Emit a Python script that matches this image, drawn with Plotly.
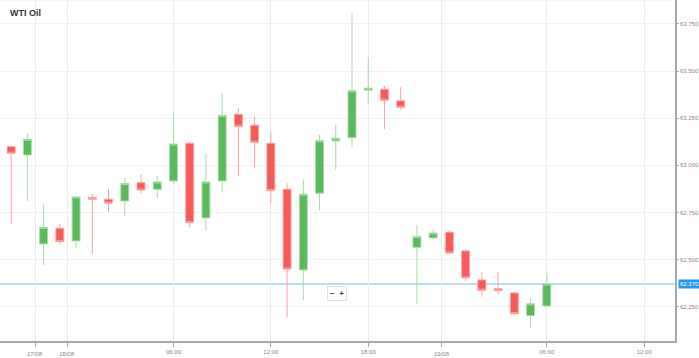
import plotly.graph_objects as go

# ---- data (hourly candles, index positions) ----
candle_idx = list(range(34))
opens = [63.099, 63.055, 62.583, 62.666, 62.599, 62.829, 62.820, 62.811, 62.908, 62.873,
         62.917, 63.117, 62.721, 62.917, 63.271, 63.213, 63.117, 62.873, 62.445, 62.852,
         63.129, 63.147, 63.398, 63.404, 63.342, 62.565, 62.615, 62.645, 62.546, 62.392,
         62.346, 62.323, 62.203, 62.254]
highs = [63.105, 63.170, 62.793, 62.689, 62.834, 62.847, 62.876, 62.931, 62.951, 62.945,
         63.279, 63.122, 63.064, 63.382, 63.303, 63.258, 63.175, 62.905, 62.926, 63.161,
         63.218, 63.807, 63.573, 63.421, 63.414, 62.684, 62.661, 62.657, 62.555, 62.436,
         62.436, 62.326, 62.295, 62.427]
lows = [62.687, 62.811, 62.471, 62.583, 62.560, 62.530, 62.751, 62.731, 62.852, 62.829,
        62.900, 62.669, 62.653, 62.860, 62.942, 62.984, 62.799, 62.196, 62.286, 62.758,
        62.975, 63.096, 63.329, 63.191, 63.294, 62.263, 62.612, 62.533, 62.387, 62.303,
        62.318, 62.210, 62.137, 62.250]
closes = [63.064, 63.138, 62.671, 62.595, 62.832, 62.820, 62.800, 62.903, 62.869, 62.912,
          63.113, 62.696, 62.912, 63.265, 63.207, 63.122, 62.866, 62.450, 62.847, 63.131,
          63.144, 63.395, 63.409, 63.345, 63.308, 62.622, 62.641, 62.535, 62.403, 62.337,
          62.335, 62.213, 62.265, 62.370]

current_price = 62.370

x_tick_pos = [1.48, 3.47, 10, 16, 22, 26.54, 33, 39]
x_tick_text = ["", "", "06:00", "12:00", "18:00", "", "06:00", "12:00"]
date_pos = [1.48, 3.47, 26.54]
date_text = ["17/08", "18/08", "19/08"]

y_ticks = [62.25, 62.5, 62.75, 63.0, 63.25, 63.5, 63.75]

GREEN = "#5cb85c"
RED = "#f65b5b"

fig = go.Figure()
fig.add_trace(go.Candlestick(
    x=candle_idx, open=opens, high=highs, low=lows, close=closes,
    increasing=dict(fillcolor=GREEN, line=dict(color="#a9dba9", width=1)),
    decreasing=dict(fillcolor=RED, line=dict(color="#fba3a3", width=1)),
    whiskerwidth=0, showlegend=False, hoverinfo="skip",
))

# current price line
fig.add_shape(type="line", xref="paper", x0=0, x1=1, yref="y",
              y0=current_price, y1=current_price,
              line=dict(color="#a9d3f5", width=1.5), layer="below")
# faint top border
fig.add_shape(type="line", xref="paper", x0=0, x1=1, yref="paper", y0=1, y1=1,
              line=dict(color="#eeeeee", width=1), layer="below")

annotations = []
for p, t in zip(date_pos, date_text):
    annotations.append(dict(x=p, xref="x", y=0, yref="paper", yanchor="top",
                            yshift=-8, text=t, showarrow=False,
                            font=dict(size=6, color="#888")))
annotations.append(dict(x=1, xref="paper", xanchor="left", xshift=3,
                        y=current_price, yref="y", text=f"{current_price:.3f}",
                        showarrow=False, bgcolor="#2196f3", borderpad=1,
                        font=dict(size=6, color="white")))
annotations.append(dict(x=8 / 677, xref="paper", y=(341 - 13) / 341, yref="paper",
                        text="<b>WTI Oil</b>", showarrow=False, xanchor="left",
                        yanchor="middle",
                        font=dict(size=9, color="#333", family="Liberation Sans, Arial")))
annotations.append(dict(x=338 / 677, xref="paper", y=(341 - 293) / 341, yref="paper",
                        yanchor="middle",
                        text="<b>−</b>  <b>+</b>", showarrow=False,
                        bgcolor="white", bordercolor="#e2e2e2", borderwidth=1,
                        borderpad=2, font=dict(size=8, color="#444")))

fig.update_layout(
    width=699, height=358,
    margin=dict(l=0, r=22, t=0, b=17),
    paper_bgcolor="white", plot_bgcolor="white",
    font=dict(family="Liberation Sans, Arial, sans-serif"),
    annotations=annotations,
    xaxis=dict(
        range=[-0.688, 40.9], rangeslider=dict(visible=False),
        tickmode="array", tickvals=x_tick_pos, ticktext=x_tick_text,
        showgrid=True, gridcolor="#ececec", gridwidth=1, zeroline=False,
        showline=True, linecolor="#aaaaaa", linewidth=2,
        ticks="outside", ticklen=4, tickcolor="#aaaaaa",
        tickfont=dict(size=6, color="#888"),
    ),
    yaxis=dict(
        side="right", range=[62.068, 63.877],
        tickmode="array", tickvals=y_ticks, tickformat=".3f",
        showgrid=True, gridcolor="#f2f2f2", gridwidth=1, zeroline=False,
        showline=True, linecolor="#aaaaaa", linewidth=1.5,
        ticks="outside", ticklen=2, tickcolor="#aaaaaa",
        tickfont=dict(size=6, color="#888"),
    ),
)

fig.write_html("out.html", config={"displayModeBar": False},
               post_script="document.body.style.margin='0';document.body.style.overflow='hidden';")
